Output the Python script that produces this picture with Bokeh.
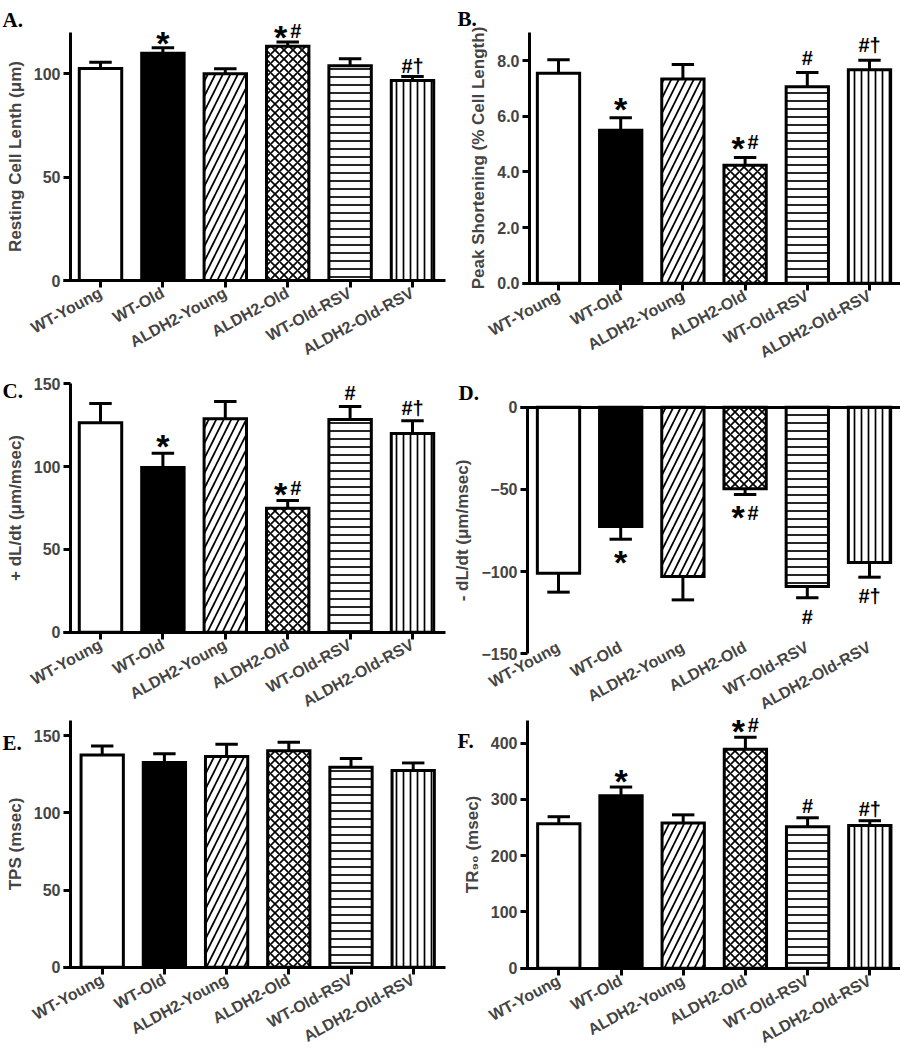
import math
from bokeh.plotting import figure
from bokeh.models import (Range1d, FixedTicker, ColumnDataSource, LabelSet, Label,
                          NumeralTickFormatter, LinearAxis)
from bokeh.layouts import row, column
from bokeh.core.properties import value
from bokeh.embed import file_html
from bokeh.resources import INLINE

# ---------------- data ----------------
groups = ["WT-Young", "WT-Old", "ALDH2-Young", "ALDH2-Old", "WT-Old-RSV", "ALDH2-Old-RSV"]

rcl_mean = [102.6, 109.9, 100.0, 113.3, 103.9, 96.8]
rcl_sem = [3.0, 2.7, 2.4, 2.1, 3.4, 1.9]
rcl_sig = ["", "*", "", "*#", "", "#†"]
rcl_ticks = [0, 50, 100]

ps_mean = [7.55, 5.50, 7.34, 4.24, 7.06, 7.67]
ps_sem = [0.48, 0.45, 0.52, 0.28, 0.51, 0.34]
ps_sig = ["", "*", "", "*#", "#", "#†"]
ps_ticks = [0, 2, 4, 6, 8]

pdl_mean = [126.5, 99.5, 128.9, 74.9, 128.4, 120.0]
pdl_sem = [11.6, 8.6, 10.4, 4.6, 7.9, 7.7]
pdl_sig = ["", "*", "", "*#", "#", "#†"]
pdl_ticks = [0, 50, 100, 150]

ndl_mean = [-101.0, -72.6, -103.0, -49.6, -109.1, -94.5]
ndl_sem = [11.5, 7.7, 14.2, 3.5, 6.8, 8.9]
ndl_sig = ["", "*", "", "*#", "#", "#†"]
ndl_ticks = [-150, -100, -50, 0]

tps_mean = [137.5, 132.6, 136.5, 140.3, 129.5, 127.4]
tps_sem = [5.9, 5.8, 7.9, 5.4, 5.7, 5.0]
tps_sig = ["", "", "", "", "", ""]
tps_ticks = [0, 50, 100, 150]

tr90_mean = [256.7, 306.5, 257.8, 388.8, 251.2, 253.5]
tr90_sem = [12.4, 15.3, 14.6, 21.3, 16.0, 8.5]
tr90_sig = ["", "*", "", "*#", "#", "#†"]
tr90_ticks = [0, 100, 200, 300, 400]

# ---------------- styles ----------------
fills = ["white", "black", "white", "white", "white", "white"]
hatches = [" ", " ", "/", "x", "-", "|"]
hscales = [10, 10, 15, 9, 8, 7]

SANS = "Liberation Sans"
SERIF = "Liberation Serif"


def make_panel(letter, ylabel, means, sems, sig, yticks, ylim, fig, axis_x, y_top_px,
               y_bot_px, first_c, spacing, x_end_px, letter_pos,
               down=False, gap=6, fmt=None):
    fx, fy, fw, fh = fig
    ymin, ymax = ylim
    k = (y_bot_px - y_top_px) / (ymax - ymin)          # pixels per data unit

    def dx(px):
        return (px - first_c) / spacing

    def dy(py):
        return ymin + (y_bot_px - py) / k

    p = figure(width=fw, height=fh,
               x_range=Range1d(dx(fx), dx(fx + fw)),
               y_range=Range1d(dy(fy + fh), dy(fy)),
               output_backend="svg", toolbar_location=None,
               min_border_left=0, min_border_right=0, min_border_top=0,
               min_border_bottom=0, outline_line_color=None,
               background_fill_color="white", border_fill_color="white")
    p.xgrid.visible = False
    p.ygrid.visible = False

    xs = list(range(len(groups)))
    src = ColumnDataSource(dict(x=xs, top=means, fill=fills, hatch=hatches, scale=hscales))
    p.vbar(x="x", top="top", bottom=0, width=0.68, source=src, fill_color="fill",
           line_color="black", line_width=3, line_join="miter",
           hatch_pattern="hatch", hatch_color="black", hatch_scale="scale",
           hatch_weight=1.7)
    ends = [m - s if down else m + s for m, s in zip(means, sems)]
    p.segment(x0=xs, y0=means, x1=xs, y1=ends, line_width=3, line_color="black")
    p.segment(x0=[i - 0.18 for i in xs], y0=ends, x1=[i + 0.18 for i in xs], y1=ends,
              line_width=3, line_color="black")

    # significance marks
    stars = ["*" if "*" in s else "" for s in sig]
    others = [s.replace("*", "") for s in sig]
    both = [("*" in s and len(s) > 1) for s in sig]
    star_dx = [-7 if b else 0 for b in both]
    oth_dx = [8 if b else 0 for b in both]
    star_size = 34
    oth_size = 20
    if not down:
        star_dy = [gap - 11 for _ in sig]
        oth_dy = [gap for _ in sig]
    else:
        star_dy = [-(gap + 23) for _ in sig]
        oth_dy = [-(gap + 14) for _ in sig]
    ssrc = ColumnDataSource(dict(x=xs, y=ends, t=stars, dx=star_dx, dy=star_dy))
    osrc = ColumnDataSource(dict(x=xs, y=ends, t=others, dx=oth_dx, dy=oth_dy))
    p.add_layout(LabelSet(x="x", y="y", text="t", source=ssrc, x_offset="dx", y_offset="dy",
                          text_font=value(SANS), text_font_style="bold",
                          text_font_size=f"{star_size}px", text_align="center",
                          text_baseline="alphabetic", text_color="black"))
    p.add_layout(LabelSet(x="x", y="y", text="t", source=osrc, x_offset="dx", y_offset="dy",
                          text_font=value(SANS), text_font_style="bold",
                          text_font_size=f"{oth_size}px", text_align="center",
                          text_baseline="alphabetic", text_color="black"))

    # panel letter
    lx, lb = letter_pos
    p.add_layout(Label(x=dx(lx), y=dy(lb), text=letter,
                       text_font=SERIF, text_font_style="bold", text_font_size="21px",
                       text_baseline="alphabetic", text_align="left", text_color="black"))

    # y axis
    ya = p.yaxis[0]
    ya.fixed_location = dx(axis_x)
    ya.bounds = (ymin, ymax)
    ya.ticker = FixedTicker(ticks=yticks)
    if fmt:
        ya.formatter = NumeralTickFormatter(format=fmt)
    ya.axis_line_width = 3
    ya.major_tick_line_width = 3
    ya.major_tick_out = 7
    ya.major_tick_in = 0
    ya.minor_tick_line_color = None
    ya.major_label_text_font = SANS
    ya.major_label_text_font_style = "bold"
    ya.major_label_text_font_size = "16px"
    ya.major_label_standoff = 3
    ya.axis_label = ylabel
    ya.axis_label_text_font = SANS
    ya.axis_label_text_font_style = "bold"
    ya.axis_label_text_font_size = "17px"
    ya.axis_label_standoff = 6

    # x axis (category labels)
    xa = p.xaxis[0]
    xa.fixed_location = ymin
    xa.bounds = (dx(axis_x - 7), dx(x_end_px))
    xa.ticker = FixedTicker(ticks=xs)
    xa.major_label_overrides = {i: g for i, g in enumerate(groups)}
    xa.major_label_orientation = 0.5
    xa.major_label_text_font = SANS
    xa.major_label_text_font_style = "bold"
    xa.major_label_text_font_size = "16px"
    xa.minor_tick_line_color = None
    xa.major_tick_in = 0
    if not down:
        xa.axis_line_width = 3
        xa.major_tick_line_width = 3
        xa.major_tick_out = 7
        xa.major_label_standoff = 4
    else:
        xa.axis_line_color = None
        xa.major_tick_line_color = None
        xa.major_tick_out = 0
        xa.major_label_standoff = -8
        zero_axis = LinearAxis(fixed_location=0, bounds=(dx(axis_x - 7), dx(x_end_px)),
                               ticker=FixedTicker(ticks=[]), axis_line_width=3,
                               major_tick_line_color=None, minor_tick_line_color=None)
        p.add_layout(zero_axis, "above")
    return p


pA = make_panel("A.", "Resting Cell Lenth (μm)", rcl_mean, rcl_sem, rcl_sig, rcl_ticks, (0, 120),
                (0, 0, 451, 362), 70, 32, 280, 100, 62.4, 445, (2, 19), gap=4)
pB = make_panel("B.", "Peak Shortening (% Cell Length)", ps_mean, ps_sem, ps_sig, ps_ticks, (0, 9),
                (451, 0, 449, 362), 529, 32.3, 282.7, 558, 62.2, 900, (457, 18), gap=8,
                fmt="0.0")
pC = make_panel("C.", "+ dL/dt (μm/msec)", pdl_mean, pdl_sem, pdl_sig, pdl_ticks, (0, 150),
                (0, 362, 451, 348), 70, 383.3, 631.7, 100, 62.4, 445, (2, 390), gap=6)
pD = make_panel("D.", "- dL/dt (μm/msec)", ndl_mean, ndl_sem, ndl_sig, ndl_ticks, (-150, 0),
                (451, 362, 449, 348), 527, 406.7, 653.3, 558, 62.2, 900, (458, 392),
                down=True, gap=12)
pE = make_panel("E.", "TPS (msec)", tps_mean, tps_sem, tps_sig, tps_ticks, (0, 160),
                (0, 710, 451, 338), 70, 719.8, 966.7, 101.7, 62.2, 445, (2, 742))
pF = make_panel("F.", "TR₉₀ (msec)", tr90_mean, tr90_sem, tr90_sig, tr90_ticks, (0, 440),
                (451, 710, 449, 338), 527, 720, 967.7, 558.3, 62.2, 900, (457, 740), gap=5)

layout = column(row(pA, pB), row(pC, pD), row(pE, pF))
open("out.html", "w").write(file_html(layout, INLINE))
